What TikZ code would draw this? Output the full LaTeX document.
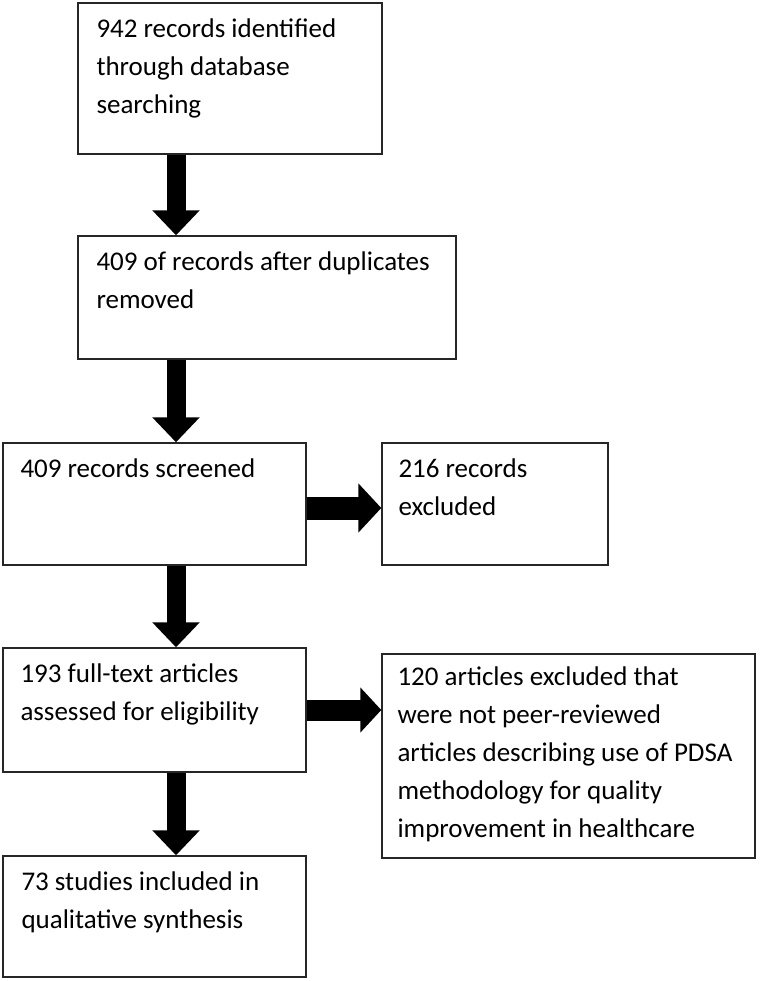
\documentclass[tikz,border=0pt]{standalone}
\usepackage{fontspec}
\setmainfont{Carlito}
\usetikzlibrary{arrows.meta}
\begin{document}
\begin{tikzpicture}[x=1pt,y=-1pt,
  box/.style={draw=black!85, line width=1.4pt, fill=white, inner sep=0pt},
  txt/.style={anchor=base west, align=left, inner sep=0pt, font=\fontsize{27}{38}\selectfont},
  downarrow/.style={line width=19pt, -{Triangle[width=46pt,length=25pt]}},
  rightarrow/.style={line width=23pt, -{Triangle[width=48pt,length=23pt]}}]
\useasboundingbox[fill=white] (0,0) rectangle (760,981);
% boxes
\node[box, minimum width=304pt, minimum height=151pt] (b1) at (230,78.5) {};
\node[box, minimum width=378pt, minimum height=123pt] (b2) at (267,297.5) {};
\node[box, minimum width=303pt, minimum height=122pt] (b3) at (154.5,504) {};
\node[box, minimum width=226pt, minimum height=122pt] (b4) at (495,504) {};
\node[box, minimum width=303pt, minimum height=124pt] (b5) at (154.5,710) {};
\node[box, minimum width=373pt, minimum height=204pt] (b6) at (568.5,756) {};
\node[box, minimum width=303pt, minimum height=121pt] (b7) at (154.5,916.5) {};
% texts (base anchor = baseline of the last line)
\node[txt] (t1) at ([shift={(19,111)}]b1.north west) {942 records identified\\through database\\searching};
\node[txt] (t2) at ([shift={(19,73)}]b2.north west) {409 of records after duplicates\\removed};
\node[txt] (t3) at ([shift={(18,35)}]b3.north west) {409 records screened};
\node[txt] (t4) at ([shift={(17,73)}]b4.north west) {216 records\\excluded};
\node[txt] (t5) at ([shift={(18,73)}]b5.north west) {193 full-text articles\\assessed for eligibility};
\node[txt] (t6) at ([shift={(16,184)}]b6.north west) {120 articles excluded that\\were not peer-reviewed\\articles describing use of PDSA\\methodology for quality\\improvement in healthcare};
\node[txt] (t7) at ([shift={(19,73)}]b7.north west) {73 studies included in\\qualitative synthesis};
% arrows
\coordinate (ax) at (176,0);
\draw[downarrow] (b1.south -| ax) -- (b2.north -| ax);
\draw[downarrow] (b2.south -| ax) -- (b3.north -| ax);
\draw[downarrow] (b3.south -| ax) -- (b5.north -| ax);
\draw[downarrow] (b5.south -| ax) -- (b7.north -| ax);
\coordinate (ay1) at (0,508);
\coordinate (ay2) at (0,710);
\draw[rightarrow] (b3.east |- ay1) -- (b4.west |- ay1);
\draw[rightarrow, line width=21pt, -{Triangle[width=44pt,length=21pt]}] (b5.east |- ay2) -- (b6.west |- ay2);
\end{tikzpicture}
\end{document}
